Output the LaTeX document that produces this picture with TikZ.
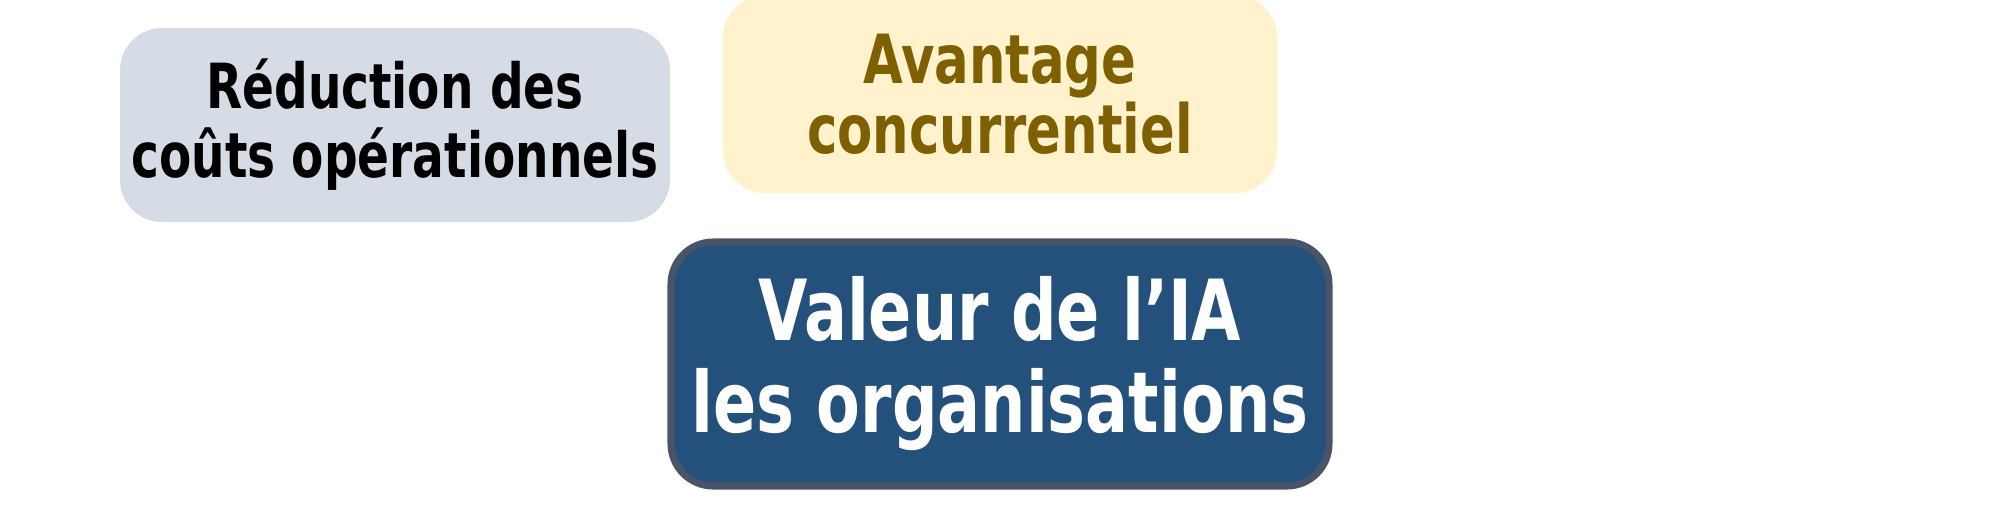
\documentclass[tikz,border=0pt]{standalone}
\usepackage{fontspec}
\newfontfamily\cardfont{DejaVu Sans Condensed}[FakeStretch=0.84]
\definecolor{costgray}{HTML}{D6DCE5}
\definecolor{edgecream}{HTML}{FFF2CC}
\definecolor{edgebrown}{HTML}{7F6000}
\definecolor{valueblue}{HTML}{24507C}
\definecolor{valueline}{HTML}{4A5468}
\begin{document}
\begin{tikzpicture}[
    card/.style={rectangle,rounded corners=12pt,align=center,inner sep=0pt},
    bigcard/.style={card,line width=2pt,rounded corners=12pt,font=\cardfont\bfseries\fontsize{24}{26.2}\selectfont}
]
    \useasboundingbox (0,0) rectangle (20,-5.28);
    \fill[white] (0,0) rectangle (20,-5.28);
    \node (cost) at (3.95,-1.25)[card,fill=costgray,minimum width=5.5cm,minimum height=1.94cm,font=\cardfont\bfseries\fontsize{17.7}{19.6}\selectfont]{Réduction des\\coûts opérationnels};
    \node (edge) at (10,-0.94)[card,fill=edgecream,text=edgebrown,minimum width=5.54cm,minimum height=1.98cm,font=\cardfont\bfseries\fontsize{19.3}{19.8}\selectfont]{Avantage\\concurrentiel};
    \node (value) at (10,-3.64)[bigcard,fill=valueblue,draw=valueline,text=white,minimum width=6.58cm,minimum height=2.44cm]{Valeur de l’IA\\les organisations};
\end{tikzpicture}
\end{document}
